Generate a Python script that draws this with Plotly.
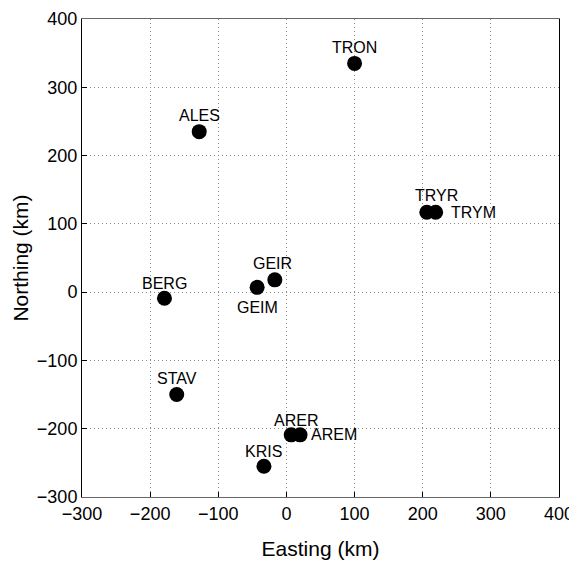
import plotly.graph_objects as go

stations = ["ALES", "TRON", "TRYR", "TRYM", "BERG", "GEIR", "GEIM", "STAV", "ARER", "AREM", "KRIS"]
easting = [-128, 100, 206, 219, -179, -17, -43, -161, 7, 20, -33]
northing = [235, 335, 117, 117, -9, 18, 7, -150, -209, -209, -255]
axis_ticks = [-300, -200, -100, 0, 100, 200, 300, 400]

# label placement (pixel offsets relative to marker centre): (xshift, yshift, xanchor)
label_style = {
    "ALES": (0, 16, "center"),
    "TRON": (0, 16, "center"),
    "TRYR": (10, 17, "center"),
    "TRYM": (13, 0, "left"),
    "BERG": (0, 15, "center"),
    "GEIR": (-2, 16, "center"),
    "GEIM": (0, -20, "center"),
    "STAV": (0, 16, "center"),
    "ARER": (5, 14, "center"),
    "AREM": (9, 0, "left"),
    "KRIS": (0, 15, "center"),
}

FONT = "Liberation Sans, Arial, Helvetica, sans-serif"

fig = go.Figure()
fig.add_trace(go.Scatter(
    x=easting, y=northing, mode="markers",
    marker=dict(size=15, color="black", line=dict(width=0)),
    hoverinfo="skip", showlegend=False,
))

for name, xe, yn in zip(stations, easting, northing):
    xs, ys, xa = label_style[name]
    fig.add_annotation(
        x=xe, y=yn, xref="x", yref="y", text=name, showarrow=False,
        xshift=xs, yshift=ys, xanchor=xa, yanchor="middle",
        font=dict(family=FONT, size=16, color="black"),
    )

axis_common = dict(
    range=[-300, 400], tickvals=axis_ticks,
    ticktext=[str(v).replace("-", "\u2212") for v in axis_ticks],
    showgrid=True, gridcolor="#8a8a8a", griddash="1px,3px", gridwidth=1,
    showline=True, linewidth=1, mirror=True,
    ticks="inside", ticklen=5, tickcolor="black",
    zeroline=False, automargin=False,
    tickfont=dict(family=FONT, size=18, color="black"),
)

# page body has an 8px margin, so the figure is sized/offset to compensate
fig.update_layout(
    width=569, height=555,
    margin=dict(l=74, r=18, t=11, b=66),
    paper_bgcolor="white", plot_bgcolor="white",
    xaxis=dict(**axis_common, linecolor="#666666",
               title=dict(text="Easting (km)", font=dict(family=FONT, size=21, color="black"), standoff=18)),
    yaxis=dict(**axis_common, linecolor="black",
               title=dict(text="Northing (km)", font=dict(family=FONT, size=21, color="black"), standoff=2)),
    showlegend=False,
)

fig.write_html("out.html")
